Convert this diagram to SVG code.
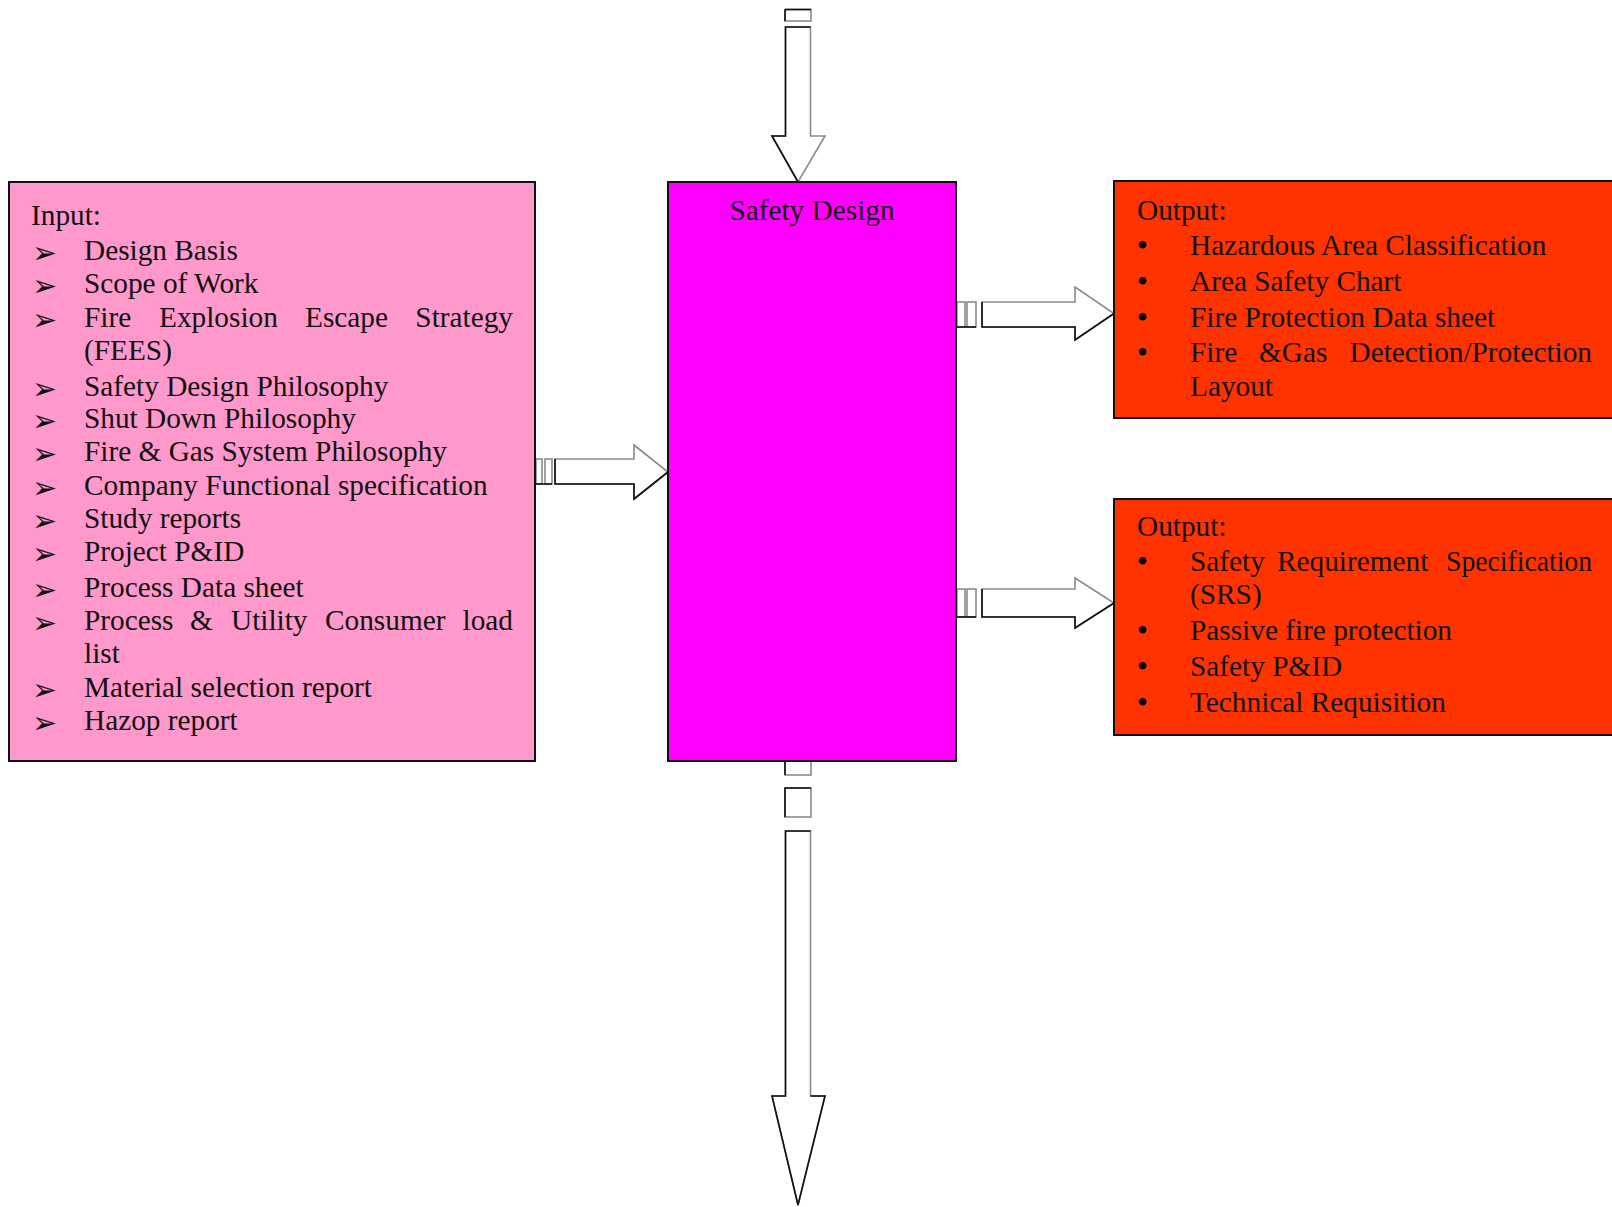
<svg xmlns="http://www.w3.org/2000/svg" width="1612" height="1207" viewBox="0 0 1612 1207">
<style>
  .box { stroke: #111; stroke-width: 2; }
  .t { font-family: "Liberation Serif", "Times New Roman", serif; font-size: 29.3px; fill: #111; }
  .b { font-family: "DejaVu Sans", sans-serif; font-size: 30px; fill: #111; }
  .dot { font-family: "Liberation Serif", serif; font-size: 31px; fill: #000; }
  .arr { fill: #fff; stroke: #8a8a8a; stroke-width: 1.6; stroke-linejoin: miter; }
  .edge { fill: none; stroke: #111; stroke-width: 1.6; }
</style>
<rect width="1612" height="1207" fill="#fff"/>

<g id="connectors">
  <g id="arrow-top">
    <rect class="arr" x="785" y="9.5" width="26" height="11.5"/>
    <line class="edge" x1="785" y1="9.5" x2="811" y2="9.5"/>
    <line class="edge" x1="785" y1="9.5" x2="785" y2="21"/>
    <polygon class="arr" points="785.5,27 810.5,27 810.5,136 825,136 798,182 772,136 785.5,136"/>
    <polyline class="edge" points="810.5,27 785.5,27 785.5,136 772,136 798,182"/>
  </g>
  <g id="arrow-left">
    <rect class="arr" x="536" y="459" width="6" height="25"/>
    <rect class="arr" x="545" y="459" width="7" height="25"/>
    <line class="edge" x1="536" y1="484" x2="552" y2="484"/>
    <polygon class="arr" points="555,459 634,459 634,445 668,472 634,499 634,484 555,484"/>
    <polyline class="edge" points="555,459 555,484 634,484 634,499 668,472"/>
  </g>
  <g id="arrow-right-1">
    <rect class="arr" x="957" y="302" width="8" height="25"/>
    <rect class="arr" x="967" y="302" width="9" height="25"/>
    <line class="edge" x1="957" y1="327" x2="976" y2="327"/>
    <polygon class="arr" points="982,302 1075,302 1075,287 1114,313.5 1075,340 1075,327 982,327"/>
    <polyline class="edge" points="982,302 982,327 1075,327 1075,340 1114,313.5"/>
  </g>
  <g id="arrow-right-2">
    <rect class="arr" x="957" y="589" width="8" height="28"/>
    <rect class="arr" x="967" y="589" width="9" height="28"/>
    <line class="edge" x1="957" y1="617" x2="976" y2="617"/>
    <polygon class="arr" points="982,589 1075,589 1075,578 1114,603 1075,628 1075,617 982,617"/>
    <polyline class="edge" points="982,589 982,617 1075,617 1075,628 1114,603"/>
  </g>
  <g id="arrow-bottom">
    <rect class="arr" x="785" y="760" width="26" height="15"/>
    <line class="edge" x1="785" y1="760" x2="785" y2="775"/>
    <rect class="arr" x="785" y="788" width="26" height="29"/>
    <polyline class="edge" points="811,788 785,788 785,817"/>
    <polygon class="arr" points="785.5,831 810.5,831 810.5,1096 825,1096 798,1205 772,1096 785.5,1096"/>
    <polyline class="edge" points="810.5,831 785.5,831 785.5,1096 772,1096 798,1205 825,1096 810.5,1096"/>
  </g>
</g>

<g id="node-input">
  <rect class="box" x="9" y="182" width="526" height="579" fill="#FF99CC"/>
  <text class="t" x="31" y="225">Input:</text>
  <text class="b" x="32" y="263">➢</text>
  <text class="t" x="84" y="260">Design Basis</text>
  <text class="b" x="32" y="296">➢</text>
  <text class="t" x="84" y="293">Scope of Work</text>
  <text class="b" x="32" y="330">➢</text>
  <text class="t" y="327"><tspan x="84">Fire</tspan><tspan x="159">Explosion</tspan><tspan x="305">Escape</tspan><tspan x="513" text-anchor="end">Strategy</tspan></text>
  <text class="t" x="84" y="360">(FEES)</text>
  <text class="b" x="32" y="399">➢</text>
  <text class="t" x="84" y="396">Safety Design Philosophy</text>
  <text class="b" x="32" y="431">➢</text>
  <text class="t" x="84" y="428">Shut Down Philosophy</text>
  <text class="b" x="32" y="464">➢</text>
  <text class="t" x="84" y="461">Fire &amp; Gas System Philosophy</text>
  <text class="b" x="32" y="498">➢</text>
  <text class="t" x="84" y="495">Company Functional specification</text>
  <text class="b" x="32" y="531">➢</text>
  <text class="t" x="84" y="528">Study reports</text>
  <text class="b" x="32" y="564">➢</text>
  <text class="t" x="84" y="561">Project P&amp;ID</text>
  <text class="b" x="32" y="600">➢</text>
  <text class="t" x="84" y="597">Process Data sheet</text>
  <text class="b" x="32" y="633">➢</text>
  <text class="t" y="630"><tspan x="84">Process</tspan><tspan x="190">&amp;</tspan><tspan x="231">Utility</tspan><tspan x="325">Consumer</tspan><tspan x="513" text-anchor="end">load</tspan></text>
  <text class="t" x="84" y="663">list</text>
  <text class="b" x="32" y="700">➢</text>
  <text class="t" x="84" y="697">Material selection report</text>
  <text class="b" x="32" y="733">➢</text>
  <text class="t" x="84" y="730">Hazop report</text>
</g>

<g id="node-safety-design">
  <rect class="box" x="668" y="182" width="288" height="579" fill="#FF00FF"/>
  <text class="t" x="812" y="220" text-anchor="middle">Safety Design</text>
</g>

<g id="node-output-1">
  <rect class="box" x="1114" y="181" width="510" height="237" fill="#FF3300"/>
  <text class="t" x="1137" y="220">Output:</text>
  <text class="dot" x="1137" y="256">•</text>
  <text class="t" x="1190" y="255">Hazardous Area Classification</text>
  <text class="dot" x="1137" y="292">•</text>
  <text class="t" x="1190" y="291">Area Safety Chart</text>
  <text class="dot" x="1137" y="328">•</text>
  <text class="t" x="1190" y="327">Fire Protection Data sheet</text>
  <text class="dot" x="1137" y="363">•</text>
  <text class="t" y="362"><tspan x="1190">Fire</tspan><tspan x="1259">&amp;Gas</tspan><tspan x="1592" text-anchor="end">Detection/Protection</tspan></text>
  <text class="t" x="1190" y="396">Layout</text>
</g>

<g id="node-output-2">
  <rect class="box" x="1114" y="499" width="510" height="236" fill="#FF3300"/>
  <text class="t" x="1137" y="536">Output:</text>
  <text class="dot" x="1137" y="572">•</text>
  <text class="t" y="571"><tspan x="1190">Safety</tspan><tspan x="1277">Requirement</tspan></text>
  <text class="t" x="1592" y="571" text-anchor="end" textLength="146" lengthAdjust="spacingAndGlyphs">Specification</text>
  <text class="t" x="1190" y="604">(SRS)</text>
  <text class="dot" x="1137" y="641">•</text>
  <text class="t" x="1190" y="640">Passive fire protection</text>
  <text class="dot" x="1137" y="677">•</text>
  <text class="t" x="1190" y="676">Safety P&amp;ID</text>
  <text class="dot" x="1137" y="713">•</text>
  <text class="t" x="1190" y="712">Technical Requisition</text>
</g>
</svg>
